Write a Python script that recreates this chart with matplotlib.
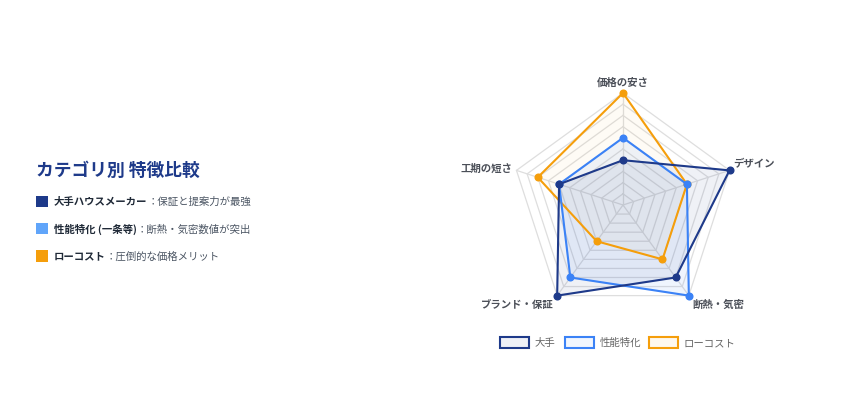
import numpy as np
import matplotlib
matplotlib.use("Agg")
import matplotlib.pyplot as plt
from matplotlib.patches import Rectangle
from matplotlib.text import Annotation

plt.rcParams['font.family'] = ['Noto Sans CJK JP', 'DejaVu Sans']

categories = ["価格の安さ", "デザイン", "断熱・気密", "ブランド・保証", "工期の短さ"]
series_names = ["大手", "性能特化", "ローコスト"]
oote = [4, 10, 8, 10, 6]
seinou = [6, 6, 10, 8, 6]
lowcost = [10, 6, 6, 4, 8]
series_values = [oote, seinou, lowcost]
line_colors = ["#1e3a8a", "#3b82f6", "#f59e0b"]
fill_colors = [(30/255, 58/255, 138/255, 0.07), (59/255, 130/255, 246/255, 0.08), (245/255, 158/255, 11/255, 0.04)]
legend_fill = ["#eef0f6", "#f1f6fe", "#fef8ee"]

side_titles = ["大手ハウスメーカー", "性能特化 (一条等)", "ローコスト"]
side_notes = ["：保証と提案力が最強", "：断熱・気密数値が突出", "：圧倒的な価格メリット"]
side_colors = ["#1e3a8a", "#60a5fa", "#f59e0b"]

W, H = 850, 408
fig = plt.figure(figsize=(W/100, H/100), dpi=100)

# radar axes, centre (623,205) px, radius 112 px
cx, cy, R = 623, 205, 112
ax = fig.add_axes([(cx-R)/W, 1-(cy+R)/H, 2*R/W, 2*R/H], projection='polar')
ax.set_theta_offset(np.pi/2)
ax.set_theta_direction(-1)
ax.set_ylim(0, 10)
ax.set_xticks([])
ax.set_yticks([])
ax.grid(False)
ax.spines['polar'].set_visible(False)
ax.patch.set_alpha(0)

n = len(categories)
theta = np.linspace(0, 2*np.pi, n, endpoint=False)
theta_c = np.append(theta, theta[0])

for lvl in range(1, 11):
    ax.plot(theta_c, [lvl]*(n+1), color="#dedede", lw=0.9, zorder=1, clip_on=False)
for t in theta:
    ax.plot([t, t], [0, 10], color="#dedede", lw=0.9, zorder=1, clip_on=False)

for i in reversed(range(len(series_values))):
    v = series_values[i] + [series_values[i][0]]
    ax.fill(theta_c, v, color=fill_colors[i], zorder=2, clip_on=False)
    ax.plot(theta_c, v, color=line_colors[i], lw=1.5, zorder=3+(2-i), clip_on=False)
    ax.plot(theta, series_values[i], 'o', color=line_colors[i], ms=4.8, zorder=3+(2-i), clip_on=False)

lab_pos = [(10.5, 'center', 'bottom'), (10.35, 'left', 'bottom'), (10.5, 'left', 'top'),
           (10.5, 'right', 'top'), (10.4, 'right', 'center')]
for t, c, (r, ha, va) in zip(theta, categories, lab_pos):
    ax.text(t, r, c, ha=ha, va=va, fontsize=7.5, fontweight='bold', color="#4b4f58")

# bottom legend
box_x = [500, 565, 649]
for bx, name, lc, lf in zip(box_x, series_names, line_colors, legend_fill):
    fig.patches.append(Rectangle((bx/W, 1-348/H), 29/W, 11/H, transform=fig.transFigure,
                                 facecolor=lf, edgecolor=lc, lw=1.5))
    fig.text((bx+35)/W, 1-343/H, name, ha='left', va='center', fontsize=7.5, color="#666666")

# left side text
fig.text(36/W, 1-171/H, "カテゴリ別 特徴比較", ha='left', va='center', fontsize=12.8,
         fontweight='bold', color="#1e3a8a")
ys = [201.5, 229, 256]
for y, t1, t2, sc in zip(ys, side_titles, side_notes, side_colors):
    fig.patches.append(Rectangle((36/W, 1-(y+5.5)/H), 11.5/W, 11.5/H, transform=fig.transFigure,
                                 facecolor=sc, edgecolor='none'))
    base = 1-(y+3.5)/H
    t = fig.text(54/W, base, t1, ha='left', va='baseline', fontsize=7.5, fontweight='bold', color="#1f2937")
    fig.add_artist(Annotation(t2, xy=(1, base), xycoords=(t, 'figure fraction'), ha='left', va='baseline',
                              fontsize=7.5, color="#4b5563"))

fig.savefig("out.png", dpi=100, facecolor='white')
